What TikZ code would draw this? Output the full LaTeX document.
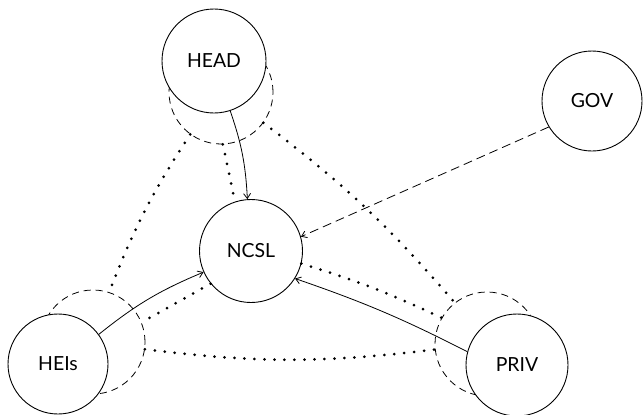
\documentclass[tikz,border=0pt]{standalone}
\usepackage{fontspec}
\setsansfont{Lato}
\usetikzlibrary{arrows.meta}

\begin{document}
\begin{tikzpicture}[x=1bp, y=1bp,
  actor/.style={circle, draw, line width=0.9bp, fill=white, inner sep=0pt,
    minimum size=#1, font=\sffamily\fontsize{19.5}{19.5}\selectfont},
  ghost/.style={circle, draw, dash pattern=on 7bp off 5bp, line width=0.8bp,
    inner sep=0pt, minimum size=104bp},
  tie/.style={line width=3bp, line cap=round, dash pattern=on 0bp off 10bp},
  flow/.style={line width=0.8bp, -{Straight Barb[length=5bp,width=7bp]}},
  policy/.style={flow, dash pattern=on 9bp off 5bp}
]
\useasboundingbox (0,0) rectangle (644,414);

% extended spheres of influence (dashed), partly hidden by the actors
\node[ghost] (headd) at (221,322) {};
\node[ghost] (heisd) at (93,72) {};
\node[ghost] (privd) at (487,70) {};

% actors
\node[actor=104bp] (head) at (214,353) {HEAD};
\node[actor=103bp] (ncsl) at (251,163) {NCSL};
\node[actor=100bp] (gov)  at (592,313) {GOV};
\node[actor=100bp] (heis) at (58,50)   {HEIs};
\node[actor=102bp] (priv) at (517,49)  {PRIV};

% dotted ties between the spheres
\draw[tie] (headd.234) to[bend right=6] (heisd.72);
\draw[tie] (headd.272) -- (ncsl.108);
\draw[tie] (headd.324) to[bend left=6] (privd.128);
\draw[tie] (ncsl.219) -- (heisd.22);
\draw[tie] (ncsl.346) to[bend left=4] (privd.150);
\draw[tie] (heisd.352) to[bend right=7] (privd.186);

% flows into NCSL
\draw[flow] (head.288) to[bend left=8] (ncsl.94);
\draw[flow] (heis.36) to[bend left=8] (ncsl.204);
\draw[flow] (priv.165) to[bend right=4] (ncsl.328);
\draw[policy] (gov.211) -- (ncsl.16);
\end{tikzpicture}
\end{document}
